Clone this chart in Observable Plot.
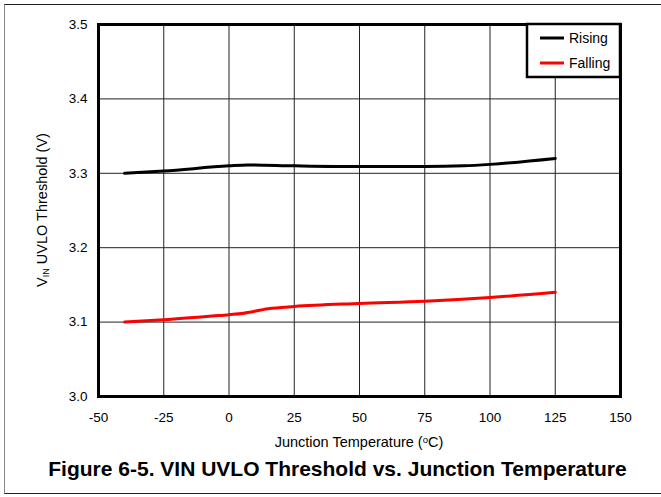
<!DOCTYPE html>
<html>
<head>
<meta charset="utf-8">
<script src="https://cdn.jsdelivr.net/npm/d3@7"></script>
<script src="https://cdn.jsdelivr.net/npm/@observablehq/plot@0.6"></script>
<style>
  html, body { margin: 0; padding: 0; background: #fff; }
  body { width: 661px; height: 497px; overflow: hidden; position: relative; font-family: "Liberation Sans", Arial, sans-serif; }
  #chart { position: absolute; left: 0; top: 0; }
  #frame { position: absolute; left: 4px; top: 4px; width: 720px; height: 488px; z-index: 5;
           border-top: 1px solid #222; border-left: 1px solid #888; border-bottom: 1px solid #222; pointer-events: none; }
  #title { position: absolute; left: 0; width: 675px; top: 457px; text-align: center;
           font-weight: bold; font-size: 21px; color: #000; }
</style>
</head>
<body>
<div id="chart"></div>
<div id="frame"></div>
<div id="title">Figure 6-5. VIN UVLO Threshold vs. Junction Temperature</div>
<script>
// Data
const risingTemps = [-40, -25, 0, 7, 25, 50, 75, 90, 100, 125];
const risingVals  = [3.300, 3.303, 3.310, 3.3112, 3.310, 3.309, 3.309, 3.310, 3.312, 3.320];
const fallingTemps = [-40, -25, 0, 5, 15, 25, 50, 75, 100, 125];
const fallingVals  = [3.100, 3.103, 3.110, 3.1115, 3.118, 3.121, 3.125, 3.128, 3.133, 3.140];
const xTicks = [-50, -25, 0, 25, 50, 75, 100, 125, 150];
const yTicks = [3.0, 3.1, 3.2, 3.3, 3.4, 3.5];
const seriesNames = ["Rising", "Falling"];
const seriesColors = ["#000000", "#ff0000"];

const rows = [
  ...risingTemps.map((t, i) => ({series: "Rising", t, v: risingVals[i]})),
  ...fallingTemps.map((t, i) => ({series: "Falling", t, v: fallingVals[i]}))
];

const W = 661, H = 455;
const mL = 98, mR = 41, mT = 24, mB = 59;
const FS = 13.5, LFS = 14.5;
const xFmt = d => (d < 0 ? "-" + Math.abs(d) : String(d));

const plot = Plot.plot({
  width: W, height: H,
  marginLeft: mL, marginRight: mR, marginTop: mT, marginBottom: mB,
  style: {fontFamily: '"Liberation Sans", Arial, sans-serif', fontSize: FS + "px", color: "#000", background: "transparent"},
  x: {domain: [-50, 150], ticks: xTicks, label: null, tickFormat: xFmt},
  y: {domain: [3.0, 3.5], ticks: yTicks, label: null, tickFormat: d3.format(".1f")},
  color: {domain: seriesNames, range: seriesColors},
  marks: [
    Plot.gridX(xTicks, {stroke: "#222", strokeOpacity: 1, strokeWidth: 1}),
    Plot.gridY(yTicks, {stroke: "#222", strokeOpacity: 1, strokeWidth: 1}),
    Plot.axisX(xTicks, {tickSize: 0, tickPadding: 16, label: null, fontSize: FS, tickFormat: xFmt}),
    Plot.axisY(yTicks, {tickSize: 0, tickPadding: 11, label: null, fontSize: FS, tickFormat: d3.format(".1f")}),
    Plot.line(rows, {x: "t", y: "v", z: "series", stroke: "series", strokeWidth: 3, curve: "monotone-x"}),
    Plot.frame({stroke: "#000", strokeWidth: 3})
  ]
});

document.getElementById("chart").appendChild(plot);
const svg = d3.select(plot);

// Y axis label with subscript
const yl = svg.append("text")
  .attr("transform", `translate(47, ${mT + (H - mT - mB) / 2}) rotate(-90)`)
  .attr("text-anchor", "middle")
  .attr("font-size", LFS)
  .attr("fill", "#000");
yl.append("tspan").text("V");
yl.append("tspan").attr("font-size", 9).attr("dy", 2).text("IN");
yl.append("tspan").attr("dy", -2).text(" UVLO Threshold (V)");

// X axis label with superscript
const xl = svg.append("text")
  .attr("x", mL + (W - mL - mR) / 2)
  .attr("y", 447)
  .attr("text-anchor", "middle")
  .attr("font-size", LFS)
  .attr("fill", "#000");
xl.append("tspan").text("Junction Temperature (");
xl.append("tspan").attr("font-size", 9.5).attr("dy", -4.5).text("o");
xl.append("tspan").attr("dy", 4.5).text("C)");

// Legend box in top-right corner of plot area
const lgRight = W - mR, lgTop = mT, lgW = 93, lgH = 53;
const lg = svg.append("g");
lg.append("rect")
  .attr("x", lgRight - lgW).attr("y", lgTop)
  .attr("width", lgW).attr("height", lgH)
  .attr("fill", "#fff").attr("stroke", "#000").attr("stroke-width", 2.5);
seriesNames.forEach((name, i) => {
  const cy = lgTop + 14 + i * 25;
  lg.append("line")
    .attr("x1", lgRight - lgW + 13).attr("x2", lgRight - lgW + 37)
    .attr("y1", cy).attr("y2", cy)
    .attr("stroke", seriesColors[i]).attr("stroke-width", 3);
  lg.append("text")
    .attr("x", lgRight - lgW + 42).attr("y", cy).attr("dy", "0.35em")
    .attr("text-anchor", "start")
    .attr("font-size", 14).attr("fill", "#000").text(name);
});
</script>
</body>
</html>
